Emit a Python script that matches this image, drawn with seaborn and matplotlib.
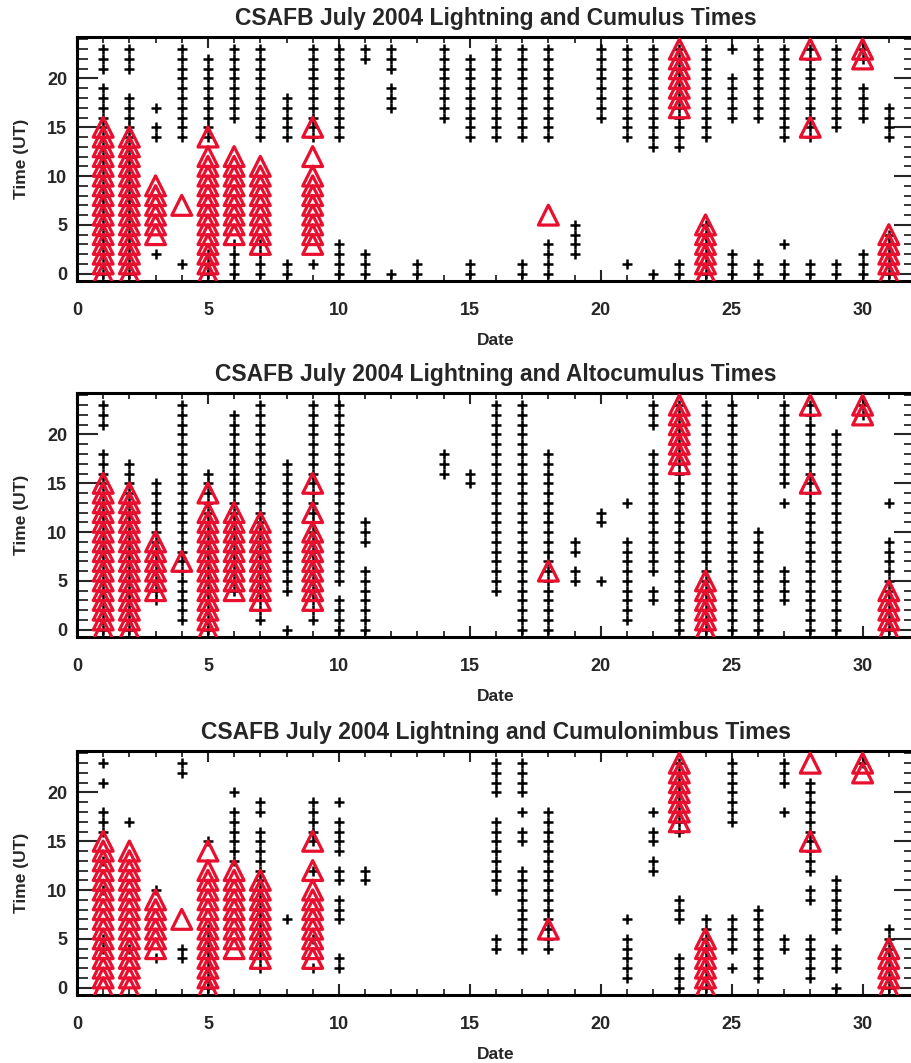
import matplotlib
matplotlib.use("Agg")
import matplotlib.pyplot as plt
import pandas as pd
import seaborn as sns
from matplotlib.ticker import MultipleLocator

# ---------------- data (day of July 2004, hours UT) ----------------
lightning_days = [1, 2, 3, 4, 5, 6, 7, 9, 18, 23, 24, 28, 30, 31]
lightning_hours = [
    [0, 1, 2, 3, 4, 5, 6, 7, 8, 9, 10, 11, 12, 13, 14, 15],
    [0, 1, 2, 3, 4, 5, 6, 7, 8, 9, 10, 11, 12, 13, 14],
    [4, 5, 6, 7, 8, 9],
    [7],
    [0, 1, 2, 3, 4, 5, 6, 7, 8, 9, 10, 11, 12, 14],
    [4, 5, 6, 7, 8, 9, 10, 11, 12],
    [3, 4, 5, 6, 7, 8, 9, 10, 11],
    [3, 4, 5, 6, 7, 8, 9, 10, 12, 15],
    [6],
    [17, 18, 19, 20, 21, 22, 23],
    [0, 1, 2, 3, 4, 5],
    [15, 23],
    [22, 23],
    [0, 1, 2, 3, 4],
]

cumulus_days = list(range(1, 32))
cumulus_hours = [
    [0, 1, 2, 3, 4, 5, 6, 7, 8, 9, 10, 11, 12, 13, 14, 15, 16, 17, 18, 19, 21, 22, 23],
    [0, 1, 2, 3, 4, 5, 6, 7, 8, 9, 10, 11, 12, 13, 14, 15, 16, 17, 18, 21, 22, 23],
    [2, 14, 15, 17],
    [1, 14, 15, 16, 17, 18, 19, 20, 21, 22, 23],
    [0, 1, 2, 14, 15, 16, 17, 18, 19, 20, 21, 22],
    [0, 1, 2, 3, 16, 17, 18, 19, 20, 21, 22, 23],
    [0, 1, 2, 3, 14, 15, 16, 17, 18, 19, 20, 21, 22, 23],
    [0, 1, 14, 15, 16, 17, 18],
    [1, 14, 15, 16, 17, 18, 19, 20, 21, 22, 23],
    [0, 1, 2, 3, 14, 15, 16, 17, 18, 19, 20, 21, 22, 23],
    [0, 1, 2, 22, 23],
    [0, 17, 18, 19, 21, 22, 23],
    [0, 1],
    [16, 17, 18, 19, 20, 21, 22, 23],
    [0, 1, 14, 15, 16, 17, 18, 19, 20, 21, 22],
    [14, 15, 16, 17, 18, 19, 20, 21, 22, 23],
    [0, 1, 14, 15, 16, 17, 18, 19, 20, 21, 22, 23],
    [0, 1, 2, 3, 14, 15, 16, 17, 18, 19, 20, 21, 22, 23],
    [2, 3, 4, 5],
    [16, 17, 18, 19, 20, 21, 22, 23],
    [1, 14, 15, 16, 17, 18, 19, 20, 21, 22, 23],
    [0, 13, 14, 15, 16, 17, 18, 19, 20, 21, 22, 23],
    [0, 1, 13, 14, 15, 16, 17, 18, 19, 20, 21, 22, 23],
    [0, 1, 2, 3, 4, 5, 14, 15, 16, 17, 18, 19, 20, 21, 22, 23],
    [0, 1, 2, 16, 17, 18, 19, 20, 23],
    [0, 1, 16, 17, 18, 19, 20, 21, 22, 23],
    [0, 1, 3, 14, 15, 16, 17, 18, 19, 20, 21, 22, 23],
    [0, 1, 14, 15, 16, 17, 18, 19, 20, 21, 22, 23],
    [0, 1, 15, 16, 17, 18, 19, 20, 21, 22, 23],
    [0, 1, 2, 16, 17, 18, 19, 22, 23],
    [0, 1, 2, 3, 4, 14, 15, 16, 17],
]

altocumulus_days = [1, 2, 3, 4, 5, 6, 7, 8, 9, 10, 11, 14, 15, 16, 17, 18, 19, 20,
                    21, 22, 23, 24, 25, 26, 27, 28, 29, 30, 31]
altocumulus_hours = [
    [0, 1, 2, 3, 4, 5, 6, 7, 8, 9, 10, 11, 12, 13, 14, 15, 16, 17, 18, 21, 22, 23],
    [0, 1, 2, 3, 4, 5, 6, 7, 8, 9, 10, 11, 12, 13, 14, 15, 16, 17],
    [3, 4, 5, 6, 7, 8, 9, 10, 11, 12, 13, 14, 15],
    [1, 2, 3, 4, 5, 6, 7, 8, 9, 10, 11, 12, 13, 14, 15, 16, 17, 18, 19, 20, 21, 22, 23],
    [0, 1, 2, 3, 4, 5, 6, 7, 8, 9, 10, 11, 12, 13, 14, 15, 16],
    [4, 5, 6, 7, 8, 9, 10, 11, 12, 13, 14, 15, 16, 17, 18, 19, 20, 21, 22],
    [1, 2, 3, 4, 5, 6, 7, 8, 9, 10, 11, 12, 13, 14, 15, 16, 17, 18, 19, 20, 21, 22, 23],
    [0, 4, 5, 6, 7, 8, 9, 10, 11, 12, 13, 14, 15, 16, 17],
    [1, 2, 3, 4, 5, 6, 7, 8, 9, 10, 11, 12, 13, 14, 15, 16, 17, 18, 19, 20, 21, 22, 23],
    [0, 1, 2, 3, 5, 6, 7, 8, 9, 10, 11, 12, 13, 14, 15, 16, 17, 18, 19, 20, 21, 22, 23],
    [0, 1, 2, 3, 4, 5, 6, 9, 10, 11],
    [16, 17, 18],
    [15, 16],
    [4, 5, 6, 7, 8, 9, 10, 11, 12, 13, 14, 15, 16, 17, 18, 19, 20, 21, 22, 23],
    [0, 1, 2, 3, 4, 5, 6, 7, 8, 9, 10, 11, 12, 13, 14, 15, 16, 17, 18, 19, 20, 21, 22, 23],
    [0, 1, 2, 3, 4, 5, 6, 7, 8, 9, 10, 11, 12, 13, 14, 15, 16, 17, 18],
    [5, 6, 8, 9],
    [5, 11, 12],
    [1, 2, 3, 4, 5, 6, 7, 8, 9, 13],
    [3, 4, 6, 7, 8, 9, 10, 11, 12, 13, 14, 15, 16, 17, 18, 21, 22, 23],
    [0, 1, 2, 3, 4, 5, 6, 7, 8, 9, 10, 11, 12, 13, 14, 15, 16, 17, 18, 19, 20, 21, 22, 23],
    [0, 1, 2, 3, 4, 5, 6, 7, 8, 9, 10, 11, 12, 13, 14, 15, 16, 17, 18, 19, 20, 21, 22, 23],
    [0, 1, 2, 3, 4, 5, 6, 7, 8, 9, 10, 11, 12, 13, 14, 15, 16, 17, 18, 19, 20, 21, 22, 23],
    [0, 1, 2, 3, 4, 5, 6, 7, 8, 9, 10],
    [3, 4, 5, 6, 13, 15, 16, 17, 18, 19, 20, 21, 22, 23],
    [0, 1, 2, 3, 4, 5, 6, 7, 8, 9, 10, 11, 12, 13, 14, 15, 16, 17, 18, 19, 20, 21, 22, 23],
    [0, 1, 2, 3, 4, 5, 6, 7, 8, 9, 10, 11, 12, 13, 14, 15, 16, 17, 18, 19, 20],
    [22, 23],
    [0, 1, 2, 3, 4, 5, 6, 7, 8, 9, 13],
]

cumulonimbus_days = [1, 2, 3, 4, 5, 6, 7, 8, 9, 10, 11, 16, 17, 18, 21, 22, 23, 24,
                     25, 26, 27, 28, 29, 30, 31]
cumulonimbus_hours = [
    [4, 5, 10, 13, 16, 17, 18, 21, 23],
    [4, 17],
    [3, 10],
    [3, 4, 22, 23],
    [0, 1, 2, 3, 4, 5, 6, 15],
    [13, 14, 15, 16, 17, 18, 20],
    [2, 3, 4, 5, 6, 7, 8, 9, 10, 11, 12, 13, 14, 15, 16, 18, 19],
    [7],
    [2, 5, 12, 15, 16, 17, 18, 19],
    [2, 3, 7, 8, 9, 11, 12, 14, 15, 16, 17, 19],
    [11, 12],
    [4, 5, 10, 11, 12, 13, 14, 15, 16, 17, 20, 21, 22, 23],
    [4, 5, 6, 7, 8, 9, 10, 11, 12, 15, 16, 18, 20, 21, 22, 23],
    [4, 5, 6, 7, 8, 9, 10, 11, 12, 13, 14, 15, 16, 17, 18],
    [1, 2, 3, 4, 5, 7],
    [12, 13, 15, 16, 18],
    [0, 1, 2, 3, 7, 8, 9, 16, 17, 18, 19, 20, 21, 22, 23],
    [0, 1, 2, 3, 4, 5, 6, 7],
    [2, 4, 5, 6, 7, 17, 18, 19, 20, 21, 22, 23],
    [1, 2, 3, 4, 5, 6, 7, 8],
    [4, 5, 18, 21, 22, 23],
    [1, 2, 3, 4, 5, 9, 10, 12, 13, 14, 15, 16, 17, 18, 19, 20, 21],
    [0, 2, 3, 4, 6, 7, 8, 9, 10, 11],
    [23],
    [0, 1, 2, 3, 4, 5, 6],
]

titles = [
    "CSAFB July 2004 Lightning and Cumulus Times",
    "CSAFB July 2004 Lightning and Altocumulus Times",
    "CSAFB July 2004 Lightning and Cumulonimbus Times",
]


def to_frame(days, hours):
    rows = [(d, h) for d, hs in zip(days, hours) for h in hs]
    return pd.DataFrame(rows, columns=["Date", "Time"])


lightning_df = to_frame(lightning_days, lightning_hours)
cloud_dfs = [
    to_frame(cumulus_days, cumulus_hours),
    to_frame(altocumulus_days, altocumulus_hours),
    to_frame(cumulonimbus_days, cumulonimbus_hours),
]

# ---------------- styling ----------------
sns.set_style("white")
plt.rcParams["font.family"] = ["Liberation Sans", "DejaVu Sans"]
plt.rcParams["font.weight"] = "bold"

W, H = 912, 1063
fig = plt.figure(figsize=(W / 100, H / 100), dpi=100)
fig.patch.set_facecolor("white")

left_px, right_px = 77, 915
bottoms_px = [281, 637, 995]
height_px = 244

red = "#e8102e"

for i, (title, cdf) in enumerate(zip(titles, cloud_dfs)):
    ax = fig.add_axes([left_px / W, (H - bottoms_px[i]) / H,
                       (right_px - left_px) / W, height_px / H])
    sns.scatterplot(data=cdf, x="Date", y="Time", marker="+", color="black",
                    s=48, linewidth=1.8, ax=ax, legend=False, zorder=2)
    sns.scatterplot(data=lightning_df, x="Date", y="Time", marker="^",
                    color=red, facecolor="none", edgecolor=red, s=205,
                    linewidth=2.3, ax=ax, legend=False, zorder=3)
    ax.set_xlim(0, 32)
    ax.set_ylim(-0.75, 24.25)
    ax.xaxis.set_major_locator(MultipleLocator(5))
    ax.xaxis.set_minor_locator(MultipleLocator(1))
    ax.yaxis.set_major_locator(MultipleLocator(5))
    ax.yaxis.set_minor_locator(MultipleLocator(1))
    ax.tick_params(axis="x", which="major", direction="in", length=8, width=1.5,
                   top=True, bottom=True, pad=15, labelsize=13)
    ax.tick_params(axis="x", which="minor", direction="in", length=4, width=1.3,
                   top=True, bottom=True)
    ax.tick_params(axis="y", which="major", direction="in", length=15, width=1.5,
                   left=True, right=True, pad=7, labelsize=13)
    ax.tick_params(axis="y", which="minor", direction="in", length=8, width=1.3,
                   left=True, right=True)
    for lab in ax.get_xticklabels() + ax.get_yticklabels():
        lab.set_fontweight("bold")
    for sp in ax.spines.values():
        sp.set_visible(True)
        sp.set_linewidth(2.2)
        sp.set_color("black")
    ax.set_title(title, fontsize=16.5, fontweight="bold", pad=9)
    ax.set_xlabel("Date", fontsize=12.5, fontweight="bold", labelpad=10)
    ax.set_ylabel("Time (UT)", fontsize=12.5, fontweight="bold", labelpad=13)

fig.savefig("out.png", dpi=100, facecolor="white")
